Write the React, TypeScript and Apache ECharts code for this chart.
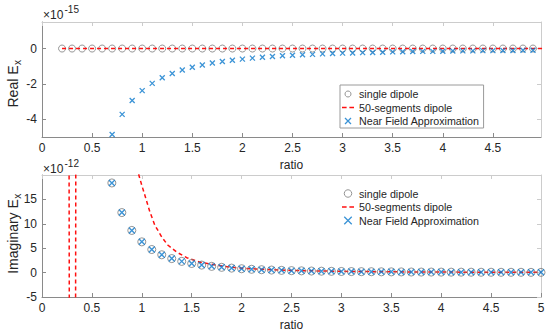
import React, { useEffect, useRef } from "react";
import * as echarts from "echarts";

const FONT = "'Liberation Sans', Arial, Helvetica, sans-serif";
const TEXT = "#262626";
const AXIS = "#8a8a8a";
const BOX = "#cccccc";
const GRAY = "#7a7a7a";
const BLUE = "#0a78cc";
const RED = "#ff1010";
const CROSS = "path://M0,0L10,10M0,10L10,0";
const DASH_ICON = "path://M0,0h5v1.6h-5zM8,0h5v1.6h-5z";

const NAME_SINGLE = "single dipole";
const NAME_SEG = "50-segments dipole";
const NAME_NFA = "Near Field Approximation";

// tick labels
const xTicksTop = [0, 0.5, 1, 1.5, 2, 2.5, 3, 3.5, 4, 4.5];
const xTicksBottom = [0, 0.5, 1, 1.5, 2, 2.5, 3, 3.5, 4, 4.5, 5];
const yTicksTop = [-4, -2, 0];
const yTicksBottom = [-5, 0, 5, 10, 15];

// ---- top panel (Real Ex, x1e-15) ----
const topSingleX = [0.2, 0.3, 0.4, 0.5, 0.6, 0.7, 0.8, 0.9, 1.0, 1.1, 1.2, 1.3, 1.4, 1.5, 1.6, 1.7, 1.8, 1.9, 2.0, 2.1, 2.2, 2.3, 2.4, 2.5, 2.6, 2.7, 2.8, 2.9, 3.0, 3.1, 3.2, 3.3, 3.4, 3.5, 3.6, 3.7, 3.8, 3.9, 4.0, 4.1, 4.2, 4.3, 4.4, 4.5, 4.6, 4.7, 4.8, 4.9];
const topSingleY = [0, 0, 0, 0, 0, 0, 0, 0, 0, 0, 0, 0, 0, 0, 0, 0, 0, 0, 0, 0, 0, 0, 0, 0, 0, 0, 0, 0, 0, 0, 0, 0, 0, 0, 0, 0, 0, 0, 0, 0, 0, 0, 0, 0, 0, 0, 0, 0];
const topSegX = [0.2, 5.0];
const topSegY = [0, 0];
const topNfaX = [0.7, 0.8, 0.9, 1.0, 1.1, 1.2, 1.3, 1.4, 1.5, 1.6, 1.7, 1.8, 1.9, 2.0, 2.1, 2.2, 2.3, 2.4, 2.5, 2.6, 2.7, 2.8, 2.9, 3.0, 3.1, 3.2, 3.3, 3.4, 3.5, 3.6, 3.7, 3.8, 3.9, 4.0, 4.1, 4.2, 4.3, 4.4, 4.5, 4.6, 4.7, 4.8, 4.9];
const topNfaY = [-4.86, -3.72, -2.94, -2.38, -1.97, -1.65, -1.41, -1.21, -1.06, -0.93, -0.82, -0.73, -0.66, -0.60, -0.54, -0.49, -0.45, -0.41, -0.38, -0.35, -0.33, -0.30, -0.28, -0.26, -0.25, -0.23, -0.22, -0.21, -0.19, -0.18, -0.17, -0.16, -0.16, -0.15, -0.14, -0.13, -0.13, -0.12, -0.12, -0.11, -0.11, -0.10, -0.10];

// ---- bottom panel (Imaginary Ex, x1e-12) ----
const botX = [0.7, 0.8, 0.9, 1.0, 1.1, 1.2, 1.3, 1.4, 1.5, 1.6, 1.7, 1.8, 1.9, 2.0, 2.1, 2.2, 2.3, 2.4, 2.5, 2.6, 2.7, 2.8, 2.9, 3.0, 3.1, 3.2, 3.3, 3.4, 3.5, 3.6, 3.7, 3.8, 3.9, 4.0, 4.1, 4.2, 4.3, 4.4, 4.5, 4.6, 4.7, 4.8, 4.9, 5.0];
const botSingleY = [18.37, 12.3, 8.64, 6.3, 4.73, 3.65, 2.87, 2.3, 1.87, 1.54, 1.28, 1.08, 0.92, 0.79, 0.68, 0.59, 0.52, 0.46, 0.4, 0.36, 0.32, 0.29, 0.26, 0.23, 0.21, 0.19, 0.18, 0.16, 0.15, 0.14, 0.12, 0.11, 0.11, 0.1, 0.09, 0.09, 0.08, 0.07, 0.07, 0.06, 0.06, 0.06, 0.05, 0.05];
const botNfaY = [18.37, 12.3, 8.64, 6.3, 4.73, 3.65, 2.87, 2.3, 1.87, 1.54, 1.28, 1.08, 0.92, 0.79, 0.68, 0.59, 0.52, 0.46, 0.4, 0.36, 0.32, 0.29, 0.26, 0.23, 0.21, 0.19, 0.18, 0.16, 0.15, 0.14, 0.12, 0.11, 0.11, 0.1, 0.09, 0.09, 0.08, 0.07, 0.07, 0.06, 0.06, 0.06, 0.05, 0.05];
const botSegX = [0.2, 0.27, 0.276, 0.3, 0.334, 0.34, 0.5, 0.8, 0.97, 1.0, 1.03, 1.08, 1.13, 1.2, 1.26, 1.35, 1.45, 1.58, 1.75, 1.93, 2.1, 2.3, 2.5, 2.8, 3.0, 3.5, 4.0, 4.5, 5.0];
const botSegY = [400, 40, -40, -400, -40, 40, 300, 50, 20.0, 17.9, 15.9, 12.5, 9.75, 7.3, 5.65, 4.2, 3.05, 2.15, 1.5, 1.03, 0.78, 0.6, 0.45, 0.32, 0.26, 0.16, 0.11, 0.075, 0.055];

const pairs = (xs: number[], ys: number[]) => xs.map((x, i) => [x, ys[i]]);

function mainX(gridIndex: number, max: number, ticks: number[]) {
  return {
    type: "value",
    gridIndex,
    position: "bottom",
    min: 0,
    max,
    name: "ratio",
    nameLocation: "middle",
    nameGap: 22,
    nameTextStyle: { fontFamily: FONT, fontSize: 12, color: TEXT },
    axisLine: { show: true, onZero: false, lineStyle: { color: AXIS, width: 1 } },
    axisTick: { show: true, inside: true, length: 4, customValues: ticks, lineStyle: { color: AXIS } },
    axisLabel: { show: true, margin: 5, customValues: ticks, fontFamily: FONT, fontSize: 12, color: TEXT, formatter: (v: number) => String(v) },
    splitLine: { show: false },
  };
}
function boxX(gridIndex: number, max: number, ticks: number[]) {
  return {
    type: "value",
    gridIndex,
    position: "top",
    min: 0,
    max,
    axisLine: { show: true, onZero: false, lineStyle: { color: BOX, width: 1 } },
    axisTick: { show: true, inside: true, length: 4, customValues: ticks, lineStyle: { color: BOX } },
    axisLabel: { show: false },
    splitLine: { show: false },
  };
}
function mainY(gridIndex: number, min: number, max: number, ticks: number[]) {
  return {
    type: "value",
    gridIndex,
    position: "left",
    min,
    max,
    axisLine: { show: true, onZero: false, lineStyle: { color: AXIS, width: 1 } },
    axisTick: { show: true, inside: true, length: 4, customValues: ticks, lineStyle: { color: AXIS } },
    axisLabel: { show: true, margin: 5, customValues: ticks, fontFamily: FONT, fontSize: 12, color: TEXT, formatter: (v: number) => String(v) },
    splitLine: { show: false },
  };
}
function boxY(gridIndex: number, min: number, max: number, ticks: number[]) {
  return {
    type: "value",
    gridIndex,
    position: "right",
    min,
    max,
    axisLine: { show: true, onZero: false, lineStyle: { color: BOX, width: 1 } },
    axisTick: { show: true, inside: true, length: 4, customValues: ticks, lineStyle: { color: BOX } },
    axisLabel: { show: false },
    splitLine: { show: false },
  };
}

function legendAt(top: number, bordered: boolean, iconH: number) {
  return {
    orient: "vertical",
    left: 340,
    top,
    itemWidth: 12,
    itemHeight: iconH,
    itemGap: 1.5,
    padding: [3, 4, 1, 2],
    backgroundColor: "#ffffff",
    borderColor: bordered ? "#9a9a9a" : "transparent",
    borderWidth: bordered ? 1 : 0,
    selectedMode: false,
    textStyle: { fontFamily: FONT, fontSize: 10.7, color: TEXT, lineHeight: 12 },
    data: [
      { name: NAME_SINGLE, icon: "circle", itemStyle: { color: "transparent", borderColor: GRAY, borderWidth: 1 } },
      { name: NAME_SEG, icon: DASH_ICON, itemStyle: { color: RED, borderWidth: 0 } },
      { name: NAME_NFA, icon: CROSS, itemStyle: { color: "transparent", borderColor: BLUE, borderWidth: 1.3 } },
    ],
  };
}

function yTitle(cx: number, cy: number, main: string, mainWidth: number) {
  const total = mainWidth + 5;
  return {
    type: "group",
    x: cx,
    y: cy,
    rotation: Math.PI / 2,
    children: [
      { type: "text", x: -total / 2, y: 0, style: { text: main, fontFamily: FONT, fontSize: 14, fill: TEXT, align: "left", verticalAlign: "middle" } },
      { type: "text", x: -total / 2 + mainWidth + 0.5, y: 4.5, style: { text: "x", fontFamily: FONT, fontSize: 10, fill: TEXT, align: "left", verticalAlign: "middle" } },
    ],
  };
}

function exponent(x: number, y: number, exp: string) {
  return {
    type: "group",
    x,
    y,
    children: [
      { type: "text", x: 0, y: 0, style: { text: "×10", fontFamily: FONT, fontSize: 12, fill: TEXT, align: "left", verticalAlign: "middle" } },
      { type: "text", x: 21.5, y: -5, style: { text: exp, fontFamily: FONT, fontSize: 10, fill: TEXT, align: "left", verticalAlign: "middle" } },
    ],
  };
}

export default function App() {
  const ref = useRef<HTMLDivElement>(null);
  useEffect(() => {
    if (!ref.current) return;
    const chart = echarts.init(ref.current, undefined, { renderer: "svg" });
    const option: any = {
      animation: false,
      backgroundColor: "#ffffff",
      textStyle: { fontFamily: FONT },
      grid: [
        { left: 42, right: 9, top: 22, height: 115, outerBoundsMode: "none", containLabel: false },
        { left: 42, right: 9, top: 175, height: 122, outerBoundsMode: "none", containLabel: false },
      ],
      xAxis: [
        mainX(0, 4.98, xTicksTop),
        boxX(0, 4.98, xTicksTop),
        mainX(1, 5, xTicksBottom),
        boxX(1, 5, xTicksBottom),
      ],
      yAxis: [
        mainY(0, -5, 1.5, yTicksTop),
        boxY(0, -5, 1.5, yTicksTop),
        mainY(1, -5, 20, yTicksBottom),
        boxY(1, -5, 20, yTicksBottom),
      ],
      legend: [legendAt(85, true, 6), legendAt(184.5, false, 7.5)],
      series: [
        {
          name: NAME_SINGLE, type: "scatter", xAxisIndex: 0, yAxisIndex: 0,
          symbol: "circle", symbolSize: 7, clip: true,
          itemStyle: { color: "transparent", borderColor: GRAY, borderWidth: 1 },
          data: pairs(topSingleX, topSingleY), z: 2,
        },
        {
          name: NAME_SEG, type: "line", xAxisIndex: 0, yAxisIndex: 0,
          symbol: "none", showSymbol: false, clip: true,
          lineStyle: { color: RED, width: 1.5, type: [4, 3] },
          itemStyle: { color: RED },
          data: pairs(topSegX, topSegY), z: 3,
        },
        {
          name: NAME_NFA, type: "scatter", xAxisIndex: 0, yAxisIndex: 0,
          symbol: CROSS, symbolSize: 5, clip: true,
          itemStyle: { color: "transparent", borderColor: BLUE, borderWidth: 1.3 },
          data: pairs(topNfaX, topNfaY), z: 4,
        },
        {
          name: NAME_SEG, type: "line", xAxisIndex: 2, yAxisIndex: 2,
          symbol: "none", showSymbol: false, clip: true,
          lineStyle: { color: RED, width: 1.5, type: [4, 3] },
          itemStyle: { color: RED },
          data: pairs(botSegX, botSegY), z: 2,
        },
        {
          name: NAME_SINGLE, type: "scatter", xAxisIndex: 2, yAxisIndex: 2,
          symbol: "circle", symbolSize: 8, clip: true,
          itemStyle: { color: "transparent", borderColor: GRAY, borderWidth: 1 },
          data: pairs(botX, botSingleY), z: 3,
        },
        {
          name: NAME_NFA, type: "scatter", xAxisIndex: 2, yAxisIndex: 2,
          symbol: CROSS, symbolSize: 6, clip: true,
          itemStyle: { color: "transparent", borderColor: BLUE, borderWidth: 1.4 },
          data: pairs(botX, botNfaY), z: 4,
        },
      ],
      graphic: [
        exponent(43, 14.5, "-15"),
        exponent(43, 168.5, "-12"),
        yTitle(12.5, 84, "Real E", 42),
        yTitle(12.5, 234, "Imaginary E", 74.7),
      ],
    };
    chart.setOption(option);
    return () => chart.dispose();
  }, []);
  return <div ref={ref} style={{ position: "absolute", left: 0, top: 0, width: 550, height: 333 }} />;
}
